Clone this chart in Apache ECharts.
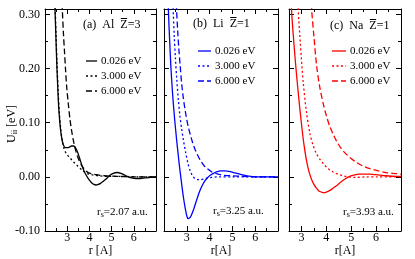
<!DOCTYPE html>
<html><head><meta charset="utf-8">
<script src="https://cdn.jsdelivr.net/npm/echarts@6.0.0/dist/echarts.min.js"></script>
<style>html,body{margin:0;padding:0;background:#fff}#c{width:415px;height:259px}</style>
</head><body><div id="c"></div>
<script>
// ---- data ----
const energies = ['0.026 eV', '3.000 eV', '6.000 eV'];
const yTickValues = [-0.10, 0.00, 0.10, 0.20, 0.30];
const yMinorValues = [-0.05, 0.05, 0.15, 0.25];
const xTickLabels = [3, 4, 5, 6];

// Al, Zbar=3
const alSolidR = [2.40,2.45,2.49,2.53,2.58,2.63,2.70,2.78,2.85,2.92,3.00,3.10,3.20,3.30,3.40,3.50,3.60,3.70,3.80,3.90,4.00,4.10,4.20,4.30,4.40,4.50,4.60,4.75,4.90,5.05,5.25,5.45,5.60,5.75,5.90,6.10,6.30,6.50,6.75,7.00];
const alSolidV = [0.37,0.31,0.26,0.21,0.16,0.12,0.087,0.066,0.057,0.054,0.054,0.055,0.057,0.057,0.052,0.042,0.029,0.017,0.007,0.000,-0.006,-0.011,-0.014,-0.015,-0.014,-0.012,-0.009,-0.004,0.002,0.006,0.008,0.006,0.003,0.000,-0.002,-0.003,-0.003,-0.002,-0.001,0.000];
const alDotR = [2.41,2.46,2.50,2.54,2.59,2.64,2.71,2.78,2.85,2.92,3.00,3.15,3.30,3.45,3.60,3.75,3.90,4.10,4.40,4.80,5.50,6.20,7.00];
const alDotV = [0.37,0.31,0.26,0.21,0.16,0.122,0.088,0.066,0.053,0.046,0.041,0.034,0.027,0.021,0.015,0.010,0.006,0.004,0.002,0.001,0.001,0.000,0.000];
const alDashR = [2.74,2.78,2.83,2.88,2.93,2.98,3.05,3.12,3.20,3.30,3.40,3.50,3.60,3.70,3.85,4.00,4.30,4.70,5.20,6.00,7.00];
const alDashV = [0.37,0.31,0.265,0.23,0.195,0.165,0.135,0.108,0.085,0.063,0.046,0.034,0.025,0.018,0.011,0.007,0.004,0.002,0.001,0.000,0.000];

// Li, Zbar=1
const liSolidR = [2.15,2.20,2.25,2.30,2.35,2.40,2.47,2.55,2.63,2.70,2.78,2.86,2.94,3.00,3.05,3.12,3.20,3.30,3.40,3.50,3.60,3.70,3.80,3.90,4.00,4.15,4.30,4.50,4.68,4.85,5.05,5.25,5.50,5.80,6.20,6.60,7.00];
const liSolidV = [0.37,0.30,0.25,0.205,0.17,0.14,0.105,0.07,0.038,0.012,-0.015,-0.040,-0.060,-0.072,-0.077,-0.076,-0.071,-0.060,-0.047,-0.034,-0.023,-0.014,-0.007,-0.002,0.002,0.006,0.009,0.011,0.011,0.010,0.008,0.006,0.003,0.001,0.000,0.000,0.000];
const liDotR = [2.35,2.40,2.45,2.50,2.56,2.63,2.70,2.78,2.85,2.95,3.05,3.14,3.25,3.35,3.45,3.60,3.75,3.90,4.10,4.40,5.00,6.00,7.00];
const liDotV = [0.37,0.31,0.26,0.22,0.18,0.142,0.112,0.087,0.068,0.045,0.025,0.012,0.002,-0.003,-0.005,-0.005,-0.004,-0.002,-0.001,0.000,0.000,0.000,0.000];
const liDashR = [2.50,2.55,2.60,2.65,2.71,2.78,2.85,2.95,3.05,3.14,3.25,3.35,3.45,3.60,3.75,3.90,4.10,4.30,4.60,5.00,5.50,6.00,7.00];
const liDashV = [0.37,0.31,0.27,0.237,0.205,0.17,0.145,0.117,0.095,0.08,0.064,0.052,0.042,0.03,0.021,0.015,0.009,0.006,0.003,0.002,0.001,0.000,0.000];

// Na, Zbar=1
const naSolidR = [2.56,2.60,2.70,2.80,2.90,3.00,3.10,3.20,3.30,3.40,3.50,3.60,3.70,3.80,3.90,4.00,4.15,4.30,4.45,4.60,4.75,4.90,5.10,5.30,5.50,5.75,6.00,6.40,6.80,7.00];
const naSolidV = [0.37,0.31,0.245,0.19,0.142,0.098,0.06,0.031,0.01,-0.004,-0.014,-0.021,-0.026,-0.028,-0.029,-0.028,-0.025,-0.02,-0.015,-0.009,-0.004,0.0,0.003,0.005,0.005,0.005,0.004,0.002,0.001,0.001];
const naDotR = [2.83,2.87,2.95,3.07,3.20,3.34,3.47,3.61,3.75,3.87,4.05,4.27,4.47,4.67,4.90,5.20,5.60,6.00,7.00];
const naDotV = [0.37,0.31,0.25,0.175,0.12,0.08,0.058,0.042,0.032,0.025,0.016,0.009,0.005,0.002,0.0,-0.001,0.0,0.0,0.0];
const naDashR = [3.36,3.41,3.50,3.61,3.74,3.87,4.00,4.14,4.28,4.41,4.60,4.80,4.94,5.20,5.47,5.75,6.01,6.40,6.80,7.00];
const naDashV = [0.37,0.31,0.26,0.205,0.165,0.136,0.113,0.093,0.078,0.066,0.052,0.042,0.036,0.027,0.02,0.015,0.012,0.008,0.006,0.005];

// ---- layout / styling ----
const FF = 'Liberation Serif';
const zip = (a, b) => a.map((x, i) => [x, b[i]]);
const mctx = document.createElement('canvas').getContext('2d');
function tw(s, size) { mctx.font = size + 'px "' + FF + '"'; return mctx.measureText(s).width; }

const dashTypes = ['solid', [2, 2.5], [6, 3]];
const panels = [
  {left:45, width:111, xmin:2, xmax:7, color:'#000000', showY:true, xName:'r [A]',
   series:[[alSolidR,alSolidV],[alDotR,alDotV],[alDashR,alDashV]],
   pre:'(a)  Al  ', post:'=3', tx:83, ty:25, legX:86, legLen:11, legY:[61,76,91],
   rs:'=2.07 a.u.', rsX:97, rsY:212},
  {left:164, width:114, xmin:2, xmax:7, color:'#0000ff', showY:false, xName:'r[A]',
   series:[[liSolidR,liSolidV],[liDotR,liDotV],[liDashR,liDashV]],
   pre:'(b)  Li  ', post:'=1', tx:193, ty:24, legX:198, legLen:13, legY:[51,66,81],
   rs:'=3.25 a.u.', rsX:213, rsY:211},
  {left:289, width:112, xmin:2.5, xmax:7, color:'#ff0000', showY:false, xName:'r[A]',
   series:[[naSolidR,naSolidV],[naDotR,naDotV],[naDashR,naDashV]],
   pre:'(c)  Na  ', post:'=1', tx:330, ty:26, legX:332, legLen:14, legY:[51,66,81],
   rs:'=3.93 a.u.', rsX:343, rsY:212}
];

const grids = [], xAxes = [], yAxes = [], series = [], graphics = [];
const black = '#000';
function txt(x, y, s, size) {
  return {type:'text', x:x, y:y, silent:true,
    style:{text:s, fill:black, font: size + 'px "' + FF + '"', fontSize:size, fontFamily:FF,
      textAlign:'left', textVerticalAlign:'middle', align:'left', verticalAlign:'middle'}};
}

panels.forEach((p, i) => {
  grids.push({left:p.left, top:9, width:p.width, height:222, containLabel:false, outerBoundsMode:'none'});
  const majX = [], minX = [];
  for (let v = Math.ceil(p.xmin); v <= p.xmax; v++) majX.push(v);
  for (let v = Math.ceil(p.xmin * 2) / 2; v <= p.xmax; v += 0.5) if (v % 1 !== 0) minX.push(v);
  const lineOn = {show:true, onZero:false, lineStyle:{color:black, width:1}};
  const lineOff = {show:false, onZero:false};
  const tickMaj = (vals) => ({show:true, inside:true, length:5, customValues:vals, lineStyle:{color:black, width:1}});
  const tickMin = (vals) => ({show:true, inside:true, length:3, customValues:vals, lineStyle:{color:black, width:1}});
  const bx = {type:'value', gridIndex:i, min:p.xmin, max:p.xmax, splitLine:{show:false}, axisLabel:{show:false}};
  const xi = xAxes.length;
  xAxes.push(Object.assign({}, bx, {position:'bottom', axisLine:lineOn, axisTick:tickMaj(majX),
    axisLabel:{show:true, customValues:xTickLabels, fontFamily:FF, fontSize:12, color:black, margin:1},
    name:p.xName, nameLocation:'middle', nameGap:14, nameMoveOverlap:false,
    nameTextStyle:{fontFamily:FF, fontSize:12, color:black}}));
  xAxes.push(Object.assign({}, bx, {position:'bottom', axisLine:lineOff, axisTick:tickMin(minX)}));
  xAxes.push(Object.assign({}, bx, {position:'top', axisLine:lineOn, axisTick:tickMaj(majX)}));
  xAxes.push(Object.assign({}, bx, {position:'top', axisLine:lineOff, axisTick:tickMin(minX)}));

  const by = {type:'value', gridIndex:i, min:-0.10, max:0.31, splitLine:{show:false}, axisLabel:{show:false}};
  const yi = yAxes.length;
  yAxes.push(Object.assign({}, by, {position:'left', axisLine:lineOn, axisTick:tickMaj(yTickValues),
    axisLabel:{show:p.showY, customValues:yTickValues, formatter:(v) => Number(v).toFixed(2),
      fontFamily:FF, fontSize:12, color:black, margin:5}}));
  yAxes.push(Object.assign({}, by, {position:'left', axisLine:lineOff, axisTick:tickMin(yMinorValues)}));
  yAxes.push(Object.assign({}, by, {position:'right', axisLine:lineOn, axisTick:tickMaj(yTickValues)}));
  yAxes.push(Object.assign({}, by, {position:'right', axisLine:lineOff, axisTick:tickMin(yMinorValues)}));

  p.series.forEach((sd, k) => {
    series.push({type:'line', name:energies[k], xAxisIndex:xi, yAxisIndex:yi, data:zip(sd[0], sd[1]),
      showSymbol:false, symbol:'none', smooth:0.3, clip:true, silent:true,
      lineStyle:{color:p.color, width:1.3, type:dashTypes[k]}});
    const y = p.legY[k];
    graphics.push({type:'line', silent:true, shape:{x1:p.legX, y1:y, x2:p.legX + p.legLen, y2:y},
      style:{stroke:p.color, lineWidth:1.3, lineDash: k === 0 ? null : dashTypes[k]}});
    graphics.push(txt(p.legX + p.legLen + 4, y, energies[k], 11));
  });

  const w1 = tw(p.pre, 12), wz = tw('Z', 12);
  graphics.push(txt(p.tx, p.ty, p.pre, 12));
  graphics.push(txt(p.tx + w1, p.ty, 'Z', 12));
  graphics.push(txt(p.tx + w1 + wz, p.ty, p.post, 12));
  graphics.push({type:'line', silent:true, shape:{x1:p.tx + w1 + 0.5, y1:p.ty - 6.5, x2:p.tx + w1 + wz - 0.5, y2:p.ty - 6.5},
    style:{stroke:black, lineWidth:1}});

  const wr = tw('r', 11), ws = tw('s', 8);
  graphics.push(txt(p.rsX, p.rsY, 'r', 11));
  graphics.push(txt(p.rsX + wr, p.rsY + 3, 's', 8));
  graphics.push(txt(p.rsX + wr + ws, p.rsY, p.rs, 11));
});

const wU = tw('U', 12), wii = tw('ii', 8);
graphics.push({type:'group', x:12, y:143, rotation:Math.PI / 2, silent:true, children:[
  txt(0, 0, 'U', 12), txt(wU, 3, 'ii', 8), txt(wU + wii, 0, ' [eV]', 12)
]});

const chart = echarts.init(document.getElementById('c'), null, {renderer:'canvas'});
chart.setOption({
  animation:false,
  backgroundColor:'#ffffff',
  grid:grids, xAxis:xAxes, yAxis:yAxes, series:series, graphic:graphics
});
</script>
</body></html>
